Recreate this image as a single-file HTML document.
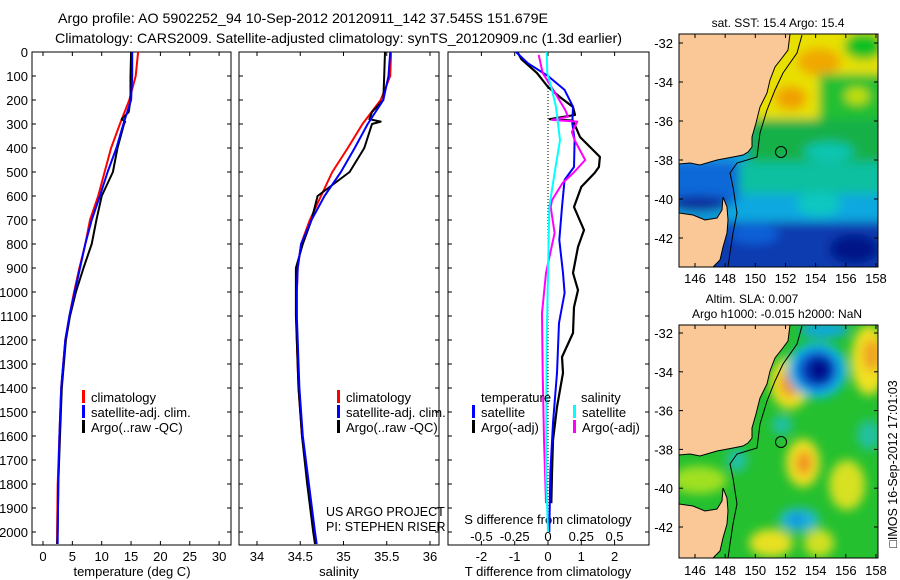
<!DOCTYPE html>
<html><head><meta charset="utf-8"><style>
html,body{margin:0;padding:0;background:#fff;}
svg{display:block;font-family:"Liberation Sans",Arial,sans-serif;}
</style></head><body>
<svg id="fig" width="900" height="580" viewBox="0 0 900 580" xmlns="http://www.w3.org/2000/svg">
<defs>
<filter id="bl" x="-20%" y="-20%" width="140%" height="140%"><feGaussianBlur stdDeviation="5"/></filter>
<clipPath id="mapclip"><rect x="0" y="0" width="199" height="233"/></clipPath>
<path id="land" d="M0,0 L111,0 L109,16 L103,24 L96,33 L91,46 L88,59 L81,73 L77,89 L73,103 L73,113 L69,118 L64,121 L54,123 L38,126 L21,131 L11,129 L0,130 Z M0,179 L14,181 L26,186 L38,184 L43,176 L44,163 L48,173 L49,186 L48,199 L44,213 L41,226 L34,233 L0,233 Z" fill="#f9c896" stroke="#000" stroke-width="1"/>
<path id="iso" d="M123,1 L118,19 L104,39 L96,56 L88,76 L81,99 L78,123 L58,129 L51,139 L54,153 L58,179 L54,199 L51,219 L49,233" fill="none" stroke="#000" stroke-width="1"/>
</defs>
<text x="58" y="23" font-size="14" textLength="490" lengthAdjust="spacingAndGlyphs">Argo profile: AO 5902252_94 10-Sep-2012 20120911_142 37.545S 151.679E</text>
<text x="55" y="43" font-size="14" textLength="567" lengthAdjust="spacingAndGlyphs">Climatology: CARS2009. Satellite-adjusted climatology: synTS_20120909.nc (1.3d earlier)</text>

<g transform="translate(679,34)">
 <g clip-path="url(#mapclip)">
  <rect x="0" y="0" width="199" height="233" fill="#18a0e0"/>
  <g filter="url(#bl)">
   <rect x="60" y="-10" width="150" height="95" fill="#e8e000"/>
   <ellipse cx="140" cy="28" rx="22" ry="14" fill="#f0a800"/>
   <ellipse cx="112" cy="64" rx="16" ry="12" fill="#f0a000"/>
   <ellipse cx="185" cy="12" rx="20" ry="14" fill="#10c020"/>
   <rect x="140" y="40" width="70" height="65" fill="#20c030"/>
   <ellipse cx="178" cy="62" rx="12" ry="8" fill="#c8e000"/>
   <rect x="70" y="85" width="140" height="50" fill="#14b048"/>
   <rect x="55" y="128" width="150" height="35" fill="#10c0a0"/>
   <ellipse cx="150" cy="118" rx="25" ry="10" fill="#10c4b0"/>
   <rect x="-10" y="160" width="220" height="30" fill="#10a8e0"/>
   <rect x="-10" y="128" width="70" height="40" fill="#0a68d8"/>
   <rect x="-10" y="188" width="220" height="55" fill="#0a3ab0"/>
   <ellipse cx="140" cy="170" rx="22" ry="12" fill="#10c8c0"/>
   <ellipse cx="75" cy="200" rx="25" ry="10" fill="#0a60d8"/>
   <ellipse cx="175" cy="215" rx="25" ry="15" fill="#061888"/>
   <ellipse cx="20" cy="170" rx="30" ry="8" fill="#0a2a9a"/>
  </g>
  <use href="#land"/>
  <use href="#iso"/>
 </g>
 <circle cx="102" cy="118" r="5.5" fill="none" stroke="#000" stroke-width="1"/>
 <rect x="0" y="0" width="199" height="233" fill="none" stroke="#000" stroke-width="1"/>
</g>

<g transform="translate(679,325)">
 <g clip-path="url(#mapclip)">
  <rect x="0" y="0" width="199" height="233" fill="#24c030"/>
  <g filter="url(#bl)">
   <ellipse cx="111" cy="58" rx="20" ry="26" fill="#f0e020"/>
   <ellipse cx="111" cy="58" rx="10" ry="14" fill="#f09020"/>
   <ellipse cx="138" cy="45" rx="30" ry="28" fill="#10b8e8"/>
   <ellipse cx="138" cy="45" rx="21" ry="20" fill="#1050d0"/>
   <ellipse cx="140" cy="45" rx="13" ry="13" fill="#00108a"/>
   <ellipse cx="145" cy="5" rx="25" ry="8" fill="#10a8e0"/>
   <ellipse cx="190" cy="35" rx="18" ry="35" fill="#f0e020"/>
   <ellipse cx="193" cy="30" rx="9" ry="16" fill="#f0a020"/>
   <ellipse cx="124" cy="138" rx="17" ry="24" fill="#f0e020"/>
   <ellipse cx="125" cy="138" rx="8" ry="12" fill="#f09020"/>
   <ellipse cx="168" cy="160" rx="18" ry="25" fill="#d8e020"/>
   <ellipse cx="103" cy="100" rx="10" ry="10" fill="#20c0a8"/>
   <ellipse cx="58" cy="135" rx="10" ry="12" fill="#20c0a8"/>
   <ellipse cx="120" cy="195" rx="20" ry="12" fill="#20b8d8"/>
   <ellipse cx="118" cy="195" rx="9" ry="6" fill="#1090e0"/>
   <ellipse cx="92" cy="218" rx="22" ry="14" fill="#e8e020"/>
   <ellipse cx="140" cy="218" rx="15" ry="14" fill="#d0e020"/>
   <ellipse cx="190" cy="110" rx="12" ry="15" fill="#20c0a0"/>
   <ellipse cx="20" cy="155" rx="28" ry="14" fill="#a0e020"/>
   <ellipse cx="75" cy="25" rx="10" ry="30" fill="#80e020"/>
  </g>
  <use href="#land"/>
  <use href="#iso"/>
 </g>
 <circle cx="102" cy="117" r="5.5" fill="none" stroke="#000" stroke-width="1"/>
 <rect x="0" y="0" width="199" height="233" fill="none" stroke="#000" stroke-width="1"/>
</g>
<text x="778" y="27" font-size="12" text-anchor="middle">sat. SST: 15.4 Argo: 15.4</text>
<text x="752" y="303" font-size="12" text-anchor="middle">Altim. SLA: 0.007</text>
<text x="777" y="318" font-size="12" text-anchor="middle">Argo h1000: -0.015 h2000: NaN</text>
<text transform="translate(897,464) rotate(-90)" font-size="12.5" text-anchor="middle">□IMOS 16-Sep-2012 17:01:03</text>
<g id="plots"></g>
</svg>
<script>
const depthTicks = [0,100,200,300,400,500,600,700,800,900,1000,1100,1200,1300,1400,1500,1600,1700,1800,1900,2000];
const tTickLabels = [0,5,10,15,20,25,30];
const sTickLabels = [34,34.5,35,35.5,36];
const dTTickLabels = [-2,-1,0,1,2];
const dSTickLabels = [-0.5,-0.25,0,0.25,0.5];
const latTicks = [-32,-34,-36,-38,-40,-42];
const lonTicks = [146,148,150,152,154,156,158];

const climDepth = [0,100,200,300,400,500,600,700,800,900,1000,1100,1200,1400,1600,1800,2000,2050];
const tClim    = [16.2,15.8,14.7,13.1,11.6,10.5,9.4,8.0,7.2,6.2,5.3,4.5,3.8,3.1,2.8,2.5,2.4,2.4];
const tSat     = [15.2,15.2,15.0,13.7,12.5,11.0,9.7,8.3,7.2,6.3,5.4,4.5,3.8,3.1,2.8,2.6,2.5,2.5];
const argoDepth= [0,100,200,250,280,290,300,400,500,600,700,800,900,1000,1100,1200,1400,1600,1800,2000,2050];
const tArgo    = [15.0,14.9,14.9,14.6,13.4,14.0,13.8,12.7,11.9,10.0,9.1,8.3,6.9,5.6,4.6,3.9,3.2,2.9,2.6,2.5,2.4];
const sClim    = [35.55,35.54,35.43,35.22,35.05,34.87,34.74,34.61,34.51,34.47,34.46,34.46,34.46,34.48,34.52,34.59,34.66,34.68];
const sSat     = [35.54,35.52,35.46,35.28,35.13,34.97,34.78,34.63,34.51,34.47,34.46,34.46,34.47,34.49,34.53,34.6,34.67,34.69];
const sArgo    = [35.48,35.47,35.46,35.33,35.30,35.43,35.33,35.24,35.07,34.70,34.63,34.53,34.45,34.45,34.45,34.46,34.48,34.52,34.58,34.65,34.67];

const dTSatDepth = [0,47,100,158,228,296,367,479,533,646,783,921,1004,1129,1337,1546,1754,2000];
const dTSat      = [-0.96,-0.6,0,0.5,0.75,0.73,0.8,0.78,0.5,0.42,0.34,0.45,0.5,0.33,0.27,0.15,0.07,0.04];
const dTArgoDepth= [0,30,88,146,188,229,262,280,286,354,437,479,504,562,646,742,812,921,992,1063,1171,1271,1337,1479,1617,1754,1880];
const dTArgo     = [-0.92,-0.8,-0.33,0,0.36,0.75,0.81,0.05,0.75,0.96,1.56,1.53,1.4,1.0,0.78,1.08,0.9,0.75,0.9,0.78,0.75,0.42,0.45,0.27,0.15,0.12,0.1];
const dSSatDepth = [0,88,158,229,367,504,646,921,1200,1754,2000];
const dSSat      = [-0.01,-0.005,0.03,0.06,0.09,0.05,0.01,0,-0.01,-0.015,0.0];
const dSArgoDepth= [12,88,158,242,270,283,290,333,367,450,504,546,617,646,754,921,1088,1337,1617,1880];
const dSArgo     = [-0.07,-0.04,0.04,0.13,0.15,0.03,0.22,0.18,0.2,0.28,0.19,0.11,0.03,0.02,0.05,-0.015,-0.045,-0.04,-0.03,-0.015];

const TOP=52, BOT=545;
const yD = d => TOP + d*0.24;
const xT = t => 43 + t*5.87;
const xS = s => 257 + (s-34)*86.5;
const xdT = v => 548 + v*33.3;
const xdS = v => 548 + v*133;
const mapX = lon => 695 + (lon-146)*15.08;
const mapYTop = lat => 43 + (-32-lat)*19.5;
const mapYBot = lat => 333 + (-32-lat)*19.4;

const NS='http://www.w3.org/2000/svg';
const root=document.getElementById('plots');
function mk(tag, attrs, parent){
  const e=document.createElementNS(NS,tag);
  for(const k in attrs) e.setAttribute(k,attrs[k]);
  (parent||root).appendChild(e); return e;
}
function txt(x,y,s,size,anchor,name){
  const e=mk('text',{x:x,y:y,'font-size':size,'text-anchor':anchor});
  e.textContent=s;
  
  
  return e;
}
function line(xs,ys,xf,color,w,name){
  let d='';
  for(let i=0;i<xs.length;i++){ d+=(i?'L':'M')+xf(xs[i]).toFixed(1)+','+yD(ys[i]).toFixed(1); }
  const p=mk('path',{d:d,fill:'none',stroke:color,'stroke-width':w,'stroke-linejoin':'round'});
  
  
  return p;
}

const panels=[{x0:32,x1:231,n:'temperature-panel'},{x0:239,x1:439,n:'salinity-panel'},{x0:448,x1:649,n:'difference-panel'}];
panels.forEach(p=>{
  const r=mk('rect',{x:p.x0,y:TOP,width:p.x1-p.x0,height:BOT-TOP,fill:'none',stroke:'#000','stroke-width':1});
  
  
  depthTicks.forEach(d=>{
    mk('line',{x1:p.x0,x2:p.x0+4,y1:yD(d),y2:yD(d),stroke:'#000'});
    mk('line',{x1:p.x1,x2:p.x1-4,y1:yD(d),y2:yD(d),stroke:'#000'});
  });
});
depthTicks.forEach(d=>{ txt(28,yD(d)+5,String(d),13,'end','depth-tick-label'); });

function xticks(vals,f,labels,ly,name){
  vals.forEach((v,i)=>{
    const x=f(v);
    mk('line',{x1:x,x2:x,y1:TOP,y2:TOP+4,stroke:'#000'});
    mk('line',{x1:x,x2:x,y1:BOT,y2:BOT-4,stroke:'#000'});
    if(labels) txt(x,ly,labels[i],13,'middle',name);
  });
}
xticks(tTickLabels,xT,tTickLabels.map(String),561,'temperature-tick-label');
xticks(sTickLabels,xS,sTickLabels.map(String),561,'salinity-tick-label');
xticks(dTTickLabels,xdT,dTTickLabels.map(String),561,'t-diff-tick-label');
dSTickLabels.forEach(v=>txt(xdS(v),541,String(v),13,'middle','s-diff-tick-label'));
txt(132,576,'temperature (deg C)',13,'middle','x-axis-title-temperature');
txt(339,576,'salinity',13,'middle','x-axis-title-salinity');
txt(548,576,'T difference from climatology',13,'middle','x-axis-title-t-diff');
txt(548,524,'S difference from climatology',13,'middle','x-axis-title-s-diff');

const z=mk('line',{x1:548,x2:548,y1:yD(100),y2:yD(2000),stroke:'#000','stroke-width':1,'stroke-dasharray':'1,2'});



line(tClim,climDepth,xT,'#f00',2,'temperature-climatology-line');
line(tArgo,argoDepth,xT,'#000',2,'temperature-argo-line');
line(tSat,climDepth,xT,'#00f',2,'temperature-satellite-line');
line(sClim,climDepth,xS,'#f00',2,'salinity-climatology-line');
line(sArgo,argoDepth,xS,'#000',2,'salinity-argo-line');
line(sSat,climDepth,xS,'#00f',2,'salinity-satellite-line');
line(dTArgo,dTArgoDepth,xdT,'#000',2.2,'t-diff-argo-line');
line(dTSat,dTSatDepth,xdT,'#00f',2,'t-diff-satellite-line');
line(dSArgo,dSArgoDepth,xdS,'#f0f',2,'s-diff-argo-line');
line(dSSat,dSSatDepth,xdS,'#0ff',2,'s-diff-satellite-line');

function leg(bx,y,color,label){
  const b=mk('rect',{x:bx-1,y:y-7,width:3,height:13,fill:color});
  
  
  txt(bx+8,y+5,label,13,'start','legend-entry');
}
[[83,'#f00','climatology'],[83,'#00f','satellite-adj. clim.'],[83,'#000','Argo(..raw -QC)']].forEach((l,i)=>leg(l[0],397+i*15,l[1],l[2]));
[[338,'#f00','climatology'],[338,'#00f','satellite-adj. clim.'],[338,'#000','Argo(..raw -QC)']].forEach((l,i)=>leg(l[0],397+i*15,l[1],l[2]));
txt(481,402,'temperature',13,'start','legend-heading-temperature');
txt(581,402,'salinity',13,'start','legend-heading-salinity');
leg(473,412,'#00f','satellite'); leg(473,427,'#000','Argo(-adj)');
leg(574,412,'#0ff','satellite'); leg(574,427,'#f0f','Argo(-adj)');
txt(326,516,'US ARGO PROJECT',12.5,'start','project-credit');
txt(326,531,'PI: STEPHEN RISER',12.5,'start','pi-credit');

[[mapYTop,283,34],[mapYBot,575,325]].forEach((m,mi)=>{
  latTicks.forEach(l=>{
    const y=m[0](l);
    mk('line',{x1:679,x2:683,y1:y,y2:y,stroke:'#000'});
    mk('line',{x1:878,x2:874,y1:y,y2:y,stroke:'#000'});
    txt(673,y+5,String(l),13,'end','map-lat-label');
  });
  lonTicks.forEach(l=>{
    const x=mapX(l);
    mk('line',{x1:x,x2:x,y1:m[2],y2:m[2]+4,stroke:'#000'});
    mk('line',{x1:x,x2:x,y1:m[2]+233,y2:m[2]+229,stroke:'#000'});
    txt(x,m[1],String(l),13,'middle','map-lon-label');
  });
});
</script>
</body></html>
